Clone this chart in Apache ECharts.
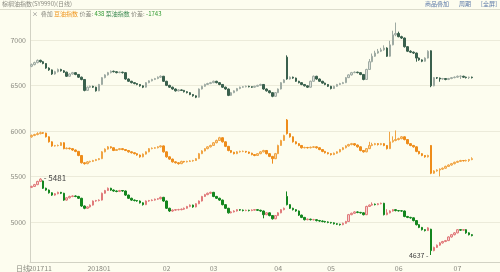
<!DOCTYPE html>
<html><head><meta charset="utf-8">
<script src="https://cdn.jsdelivr.net/npm/echarts@6/dist/echarts.min.js"></script>
<style>html,body{margin:0;padding:0;background:#fdfdef;}#c{width:500px;height:272px;}</style>
</head><body><div id="c"></div>
<script>
// [open, close, low, high]
const rapeseedOil = [
[6710,6728,6700,6740],[6728,6750,6720,6760],[6750,6775,6742,6785],[6775,6760,6750,6782],[6760,6740,6732,6768],
[6740,6690,6682,6745],[6690,6670,6660,6698],[6670,6625,6615,6675],[6625,6650,6618,6660],[6650,6675,6642,6685],
[6675,6660,6652,6682],[6660,6645,6636,6668],[6645,6600,6592,6650],[6600,6625,6595,6632],[6625,6640,6618,6648],
[6640,6620,6612,6646],[6620,6590,6582,6625],[6590,6565,6556,6596],[6565,6445,6435,6570],[6445,6480,6440,6488],
[6480,6490,6472,6498],[6490,6480,6472,6496],[6480,6440,6432,6485],[6440,6510,6436,6516],[6510,6585,6505,6592],
[6585,6615,6578,6622],[6615,6640,6608,6648],[6640,6655,6632,6664],[6655,6650,6642,6662],[6650,6640,6632,6656],
[6640,6645,6634,6652],[6645,6640,6630,6650],[6640,6570,6562,6645],[6570,6545,6538,6576],[6545,6530,6522,6550],
[6530,6520,6512,6536],[6520,6510,6502,6526],[6510,6495,6486,6515],[6495,6480,6470,6500],[6480,6530,6475,6536],
[6530,6550,6524,6556],[6550,6565,6544,6572],[6565,6575,6558,6582],[6575,6590,6568,6598],[6590,6600,6582,6610],
[6600,6545,6538,6604],[6545,6500,6492,6550],[6500,6480,6472,6506],[6480,6460,6452,6486],[6460,6440,6432,6466],
[6440,6450,6434,6458],[6450,6445,6438,6456],[6445,6430,6422,6450],[6430,6420,6412,6436],[6420,6400,6392,6426],
[6400,6385,6376,6405],[6385,6370,6360,6390],[6370,6460,6365,6466],[6460,6490,6455,6496],[6490,6510,6484,6518],
[6510,6520,6504,6528],[6520,6530,6514,6538],[6530,6545,6524,6552],[6545,6530,6522,6550],[6530,6510,6502,6536],
[6510,6480,6472,6515],[6480,6460,6452,6486],[6460,6390,6382,6465],[6390,6420,6385,6428],[6420,6440,6414,6446],
[6440,6465,6435,6472],[6465,6480,6458,6486],[6480,6485,6474,6492],[6485,6490,6478,6498],[6490,6485,6478,6496],
[6485,6480,6472,6490],[6480,6490,6474,6496],[6490,6500,6484,6506],[6500,6510,6494,6518],[6510,6460,6452,6515],
[6460,6440,6432,6466],[6440,6420,6412,6446],[6420,6380,6370,6425],[6380,6420,6375,6426],[6420,6460,6415,6466],
[6460,6530,6455,6536],[6530,6560,6525,6568],[6810,6570,6562,6830],[6570,6590,6564,6598],[6590,6580,6572,6596],
[6580,6545,6538,6585],[6545,6530,6522,6550],[6530,6510,6502,6535],[6510,6495,6488,6515],[6495,6480,6472,6500],
[6480,6545,6475,6552],[6545,6600,6540,6608],[6600,6570,6562,6605],[6570,6545,6538,6575],[6545,6525,6518,6550],
[6525,6510,6502,6530],[6510,6490,6482,6515],[6490,6465,6456,6495],[6465,6490,6460,6496],[6490,6510,6485,6516],
[6510,6520,6504,6528],[6520,6530,6514,6538],[6530,6585,6525,6592],[6585,6615,6580,6622],[6615,6640,6608,6648],
[6640,6645,6634,6654],[6645,6640,6632,6650],[6640,6620,6612,6645],[6620,6565,6556,6625],[6565,6675,6560,6682],
[6675,6760,6670,6790],[6760,6820,6754,6850],[6820,6855,6812,6880],[6855,6875,6848,6900],[6875,6890,6866,6912],
[6890,6910,6880,6940],[6910,6820,6812,6918],[6820,6945,6815,6990],[6945,7055,6940,7100],[7055,7070,7040,7190],
[7070,7035,7028,7090],[7035,7020,7010,7045],[7020,6925,6915,7025],[6925,6875,6866,6930],[6875,6865,6855,6885],
[6865,6855,6845,6872],[6855,6800,6760,6860],[6800,6780,6770,6806],[6780,6765,6755,6786],[6765,6800,6760,6808],
[6800,6875,6795,6885],[6880,6495,6480,6885],[6495,6585,6490,6592],[6585,6580,6570,6592],[6580,6570,6540,6586],
[6570,6575,6562,6582],[6575,6565,6556,6580],[6565,6575,6558,6582],[6575,6585,6568,6592],[6585,6590,6578,6598],
[6590,6600,6584,6608],[6600,6600,6570,6610],[6600,6590,6582,6606],[6590,6585,6576,6596],[6585,6590,6570,6596],
[6590,6585,6576,6596]
];
const soybeanOil = [
[5935,5950,5925,5960],[5950,5960,5942,5968],[5960,5970,5952,5985],[5970,5980,5962,5992],[5980,5975,5966,5986],
[5975,5935,5928,5980],[5935,5880,5872,5940],[5880,5835,5826,5886],[5835,5838,5828,5846],[5838,5840,5830,5850],
[5840,5870,5834,5878],[5870,5805,5798,5875],[5805,5810,5798,5818],[5810,5805,5796,5816],[5805,5790,5782,5810],
[5790,5775,5766,5795],[5775,5730,5722,5780],[5730,5650,5642,5735],[5650,5640,5630,5656],[5640,5660,5634,5668],
[5660,5665,5652,5672],[5665,5675,5658,5682],[5675,5685,5668,5692],[5685,5695,5678,5702],[5695,5770,5690,5778],
[5770,5800,5765,5808],[5800,5825,5794,5834],[5825,5815,5806,5830],[5815,5785,5778,5820],[5785,5795,5780,5802],
[5795,5805,5788,5812],[5805,5795,5788,5810],[5795,5785,5778,5800],[5785,5770,5762,5790],[5770,5760,5752,5775],
[5760,5750,5742,5765],[5750,5735,5728,5755],[5735,5715,5706,5740],[5715,5745,5710,5752],[5745,5770,5740,5776],
[5770,5805,5765,5812],[5805,5810,5798,5818],[5810,5815,5804,5822],[5815,5825,5808,5832],[5825,5835,5818,5842],
[5835,5770,5762,5840],[5770,5715,5706,5775],[5715,5690,5682,5720],[5690,5660,5652,5695],[5660,5650,5642,5666],
[5650,5640,5630,5655],[5640,5665,5635,5672],[5665,5660,5652,5670],[5660,5665,5654,5672],[5665,5670,5658,5678],
[5670,5675,5662,5682],[5675,5695,5670,5702],[5695,5750,5690,5758],[5750,5780,5745,5788],[5780,5805,5775,5812],
[5805,5825,5798,5832],[5825,5840,5818,5848],[5840,5870,5834,5878],[5870,5895,5864,5904],[5895,5925,5890,5935],
[5925,5880,5872,5930],[5880,5830,5822,5885],[5830,5785,5776,5835],[5785,5765,5756,5790],[5765,5750,5742,5770],
[5750,5770,5745,5778],[5770,5775,5762,5782],[5775,5775,5766,5784],[5775,5768,5760,5780],[5768,5755,5746,5772],
[5755,5740,5732,5760],[5740,5730,5722,5746],[5730,5750,5725,5756],[5750,5770,5744,5778],[5770,5785,5764,5792],
[5785,5750,5742,5790],[5750,5720,5712,5755],[5720,5695,5640,5725],[5695,5750,5690,5758],[5750,5840,5745,5848],
[5840,5895,5835,5902],[5895,5950,5890,5958],[6120,5970,5960,6130],[5970,5935,5926,5975],[5935,5880,5872,5940],
[5880,5860,5852,5886],[5860,5840,5832,5866],[5840,5815,5806,5845],[5815,5818,5808,5826],[5818,5815,5806,5824],
[5815,5820,5808,5828],[5820,5825,5812,5834],[5825,5815,5806,5830],[5815,5795,5788,5820],[5795,5775,5766,5800],
[5775,5760,5752,5780],[5760,5750,5742,5766],[5750,5740,5730,5755],[5740,5755,5734,5762],[5755,5770,5748,5776],
[5770,5795,5764,5802],[5795,5815,5788,5822],[5815,5835,5808,5842],[5835,5850,5828,5858],[5850,5860,5842,5868],
[5860,5845,5836,5866],[5845,5825,5816,5850],[5825,5785,5776,5830],[5785,5770,5762,5790],[5770,5805,5765,5812],
[5805,5840,5800,5880],[5840,5850,5832,5870],[5850,5860,5842,5868],[5860,5850,5840,5866],[5850,5860,5842,5868],
[5860,5840,5832,5866],[5840,5805,5796,5845],[5805,5880,5800,5990],[5880,5895,5872,5940],[5895,5905,5886,6005],
[5905,5915,5896,5925],[5915,5935,5908,5944],[5935,5905,5896,5940],[5905,5860,5852,5910],[5860,5840,5832,5866],
[5840,5825,5816,5846],[5825,5775,5766,5830],[5775,5750,5742,5780],[5750,5730,5722,5756],[5730,5715,5706,5735],
[5715,5730,5708,5738],[5840,5535,5525,5845],[5535,5560,5528,5568],[5560,5570,5552,5578],[5570,5580,5500,5588],
[5580,5590,5572,5598],[5590,5610,5584,5618],[5610,5625,5604,5632],[5625,5640,5618,5648],[5640,5655,5632,5662],
[5655,5665,5648,5672],[5665,5675,5658,5682],[5675,5672,5664,5680],[5672,5675,5664,5684],[5675,5685,5660,5692],
[5685,5695,5678,5710]
];
const palmOil = [
[5380,5390,5372,5398],[5390,5410,5384,5418],[5410,5445,5404,5452],[5445,5470,5438,5481],[5450,5370,5362,5455],
[5370,5350,5342,5376],[5350,5320,5312,5356],[5320,5295,5286,5326],[5295,5310,5288,5318],[5310,5325,5304,5332],
[5325,5315,5306,5330],[5315,5240,5232,5320],[5240,5265,5234,5272],[5265,5280,5258,5288],[5280,5285,5272,5292],
[5285,5280,5272,5292],[5280,5260,5252,5286],[5260,5175,5166,5265],[5175,5150,5140,5180],[5150,5165,5144,5172],
[5165,5185,5158,5192],[5185,5230,5180,5236],[5230,5235,5222,5242],[5235,5240,5226,5248],[5240,5315,5235,5322],
[5315,5345,5310,5352],[5345,5370,5340,5378],[5370,5350,5342,5375],[5350,5340,5332,5356],[5340,5335,5326,5346],
[5335,5345,5328,5352],[5345,5340,5332,5350],[5340,5295,5286,5345],[5295,5260,5252,5300],[5260,5240,5232,5266],
[5240,5235,5226,5246],[5235,5230,5222,5240],[5230,5210,5202,5236],[5210,5190,5180,5215],[5190,5230,5185,5236],
[5230,5235,5222,5242],[5235,5240,5228,5248],[5240,5250,5234,5256],[5250,5255,5242,5262],[5255,5270,5248,5278],
[5270,5230,5222,5275],[5230,5150,5142,5235],[5150,5120,5110,5156],[5120,5130,5112,5138],[5130,5135,5122,5142],
[5135,5135,5126,5144],[5135,5140,5128,5148],[5140,5150,5132,5158],[5150,5170,5144,5176],[5170,5185,5162,5192],
[5185,5165,5156,5190],[5165,5200,5160,5206],[5200,5230,5195,5236],[5230,5280,5225,5286],[5280,5300,5274,5308],
[5300,5315,5294,5322],[5315,5325,5308,5332],[5325,5280,5272,5330],[5280,5260,5252,5286],[5260,5240,5232,5266],
[5240,5190,5182,5245],[5190,5150,5142,5195],[5150,5100,5092,5155],[5100,5110,5094,5118],[5110,5120,5104,5128],
[5120,5135,5114,5142],[5135,5130,5122,5140],[5130,5125,5116,5136],[5125,5128,5118,5135],[5128,5125,5116,5134],
[5125,5130,5118,5138],[5130,5135,5124,5142],[5135,5128,5120,5140],[5128,5120,5112,5134],[5120,5080,5040,5125],
[5080,5100,5074,5108],[5100,5070,5062,5105],[5070,5035,5026,5075],[5035,5070,5030,5076],[5070,5100,5065,5108],
[5100,5135,5095,5142],[5135,5150,5128,5158],[5280,5190,5182,5335],[5190,5150,5142,5195],[5150,5135,5126,5156],
[5135,5120,5112,5140],[5120,5075,5066,5125],[5075,5050,5042,5080],[5050,5025,5016,5055],[5025,5030,5018,5038],
[5030,5025,5016,5036],[5025,5025,5016,5034],[5025,5015,5006,5030],[5015,5010,5002,5022],[5010,5005,4996,5016],
[5005,5000,4992,5012],[5000,4995,4986,5006],[4995,4990,4982,5000],[4990,4980,4972,4996],[4980,4975,4966,4986],
[4975,4970,4960,4980],[4970,4985,4964,4992],[4985,5005,4980,5012],[5005,5080,5000,5088],[5080,5095,5074,5102],
[5095,5110,5088,5118],[5110,5105,5096,5116],[5105,5100,5092,5110],[5100,5080,5072,5106],[5080,5170,5075,5178],
[5170,5185,5164,5192],[5185,5195,5178,5215],[5195,5190,5182,5202],[5190,5200,5184,5208],[5200,5205,5194,5212],
[5205,5080,5072,5210],[5080,5100,5074,5140],[5100,5120,5094,5128],[5120,5135,5114,5142],[5135,5125,5116,5140],
[5125,5122,5114,5130],[5122,5120,5112,5128],[5120,5060,5052,5125],[5060,5050,5042,5066],[5050,5045,5036,5056],
[5045,5015,5006,5050],[5015,4970,4962,5020],[4970,4940,4932,4975],[4940,4915,4906,4945],[4915,4905,4896,4920],
[4905,4935,4900,4942],[4920,4685,4637,4925],[4685,4720,4678,4728],[4720,4745,4714,4752],[4745,4770,4738,4778],
[4770,4785,4762,4792],[4785,4795,4778,4802],[4795,4835,4790,4842],[4835,4860,4828,4868],[4860,4880,4852,4888],
[4880,4915,4874,4922],[4915,4910,4902,4920],[4910,4915,4902,4922],[4915,4880,4870,4920],[4880,4860,4852,4886],
[4860,4850,4842,4866]
];
const monthTickIndex = [3, 23, 46, 62, 84, 102, 125, 145];
const monthTickLabels = ['201711', '201801', '02', '03', '04', '05', '06', '07'];
const slotCount = 160;
const titleText = '棕榈油指数(SY9990)(日线)';
const periodLabel = '日线';
const overlayNames = ['豆油指数', '菜油指数'];
const overlaySpreads = ['438', '-1743'];
const toolbarItems = ['商品叠加', '周期', '[全屏]'];

const slots = Array.from({length: slotCount}, (_, i) => String(i));
const FONT = '"Noto Sans CJK SC", "Noto Sans", sans-serif';
const chart = echarts.init(document.getElementById('c'), null, {renderer: 'canvas'});

chart.setOption({
  animation: false,
  backgroundColor: '#fdfdef',
  textStyle: {fontFamily: FONT},
  grid: {left: 30, right: 0, top: 18, bottom: 9, containLabel: false},
  xAxis: {
    type: 'category', data: slots, boundaryGap: true,
    axisLine: {lineStyle: {color: '#d2d2c4', width: 1}},
    axisTick: {show: false},
    splitLine: {show: false},
    axisLabel: {
      color: '#8a8a80', fontSize: 7, margin: 3, fontFamily: FONT,
      interval: (i) => monthTickIndex.indexOf(i) >= 0,
      formatter: (v, i) => { const k = monthTickIndex.indexOf(Number(v)); return k >= 0 ? monthTickLabels[k] : ''; }
    }
  },
  yAxis: {
    type: 'value', min: 4560, max: 7240, splitNumber: 5, scale: true,
    axisLine: {show: true, lineStyle: {color: '#d2d2c4'}},
    axisTick: {show: false},
    axisLabel: {color: '#8a8a80', fontSize: 7, margin: 4, showMinLabel: false, showMaxLabel: false, fontFamily: FONT,
      formatter: (v) => String(v)},
    splitLine: {show: true, showMinLine: false, showMaxLine: false, lineStyle: {color: '#ecebda', width: 1}}
  },
  series: [
    {
      name: overlayNames[1], type: 'candlestick', data: rapeseedOil, barWidth: 2,
      itemStyle: {color: '#dfe3dc', color0: '#3a604d', borderColor: '#9eaaa2', borderColor0: '#3a604d', borderWidth: 1}
    },
    {
      name: overlayNames[0], type: 'candlestick', data: soybeanOil, barWidth: 2,
      itemStyle: {color: '#f8d29c', color0: '#ee8c1a', borderColor: '#f0a444', borderColor0: '#ee8c1a', borderWidth: 1}
    },
    {
      name: '棕榈油指数', type: 'candlestick', data: palmOil, barWidth: 2,
      itemStyle: {color: '#f6d2d2', color0: '#13861e', borderColor: '#e07a7a', borderColor0: '#13861e', borderWidth: 1},
      markPoint: {
        symbol: 'circle', symbolSize: 1, itemStyle: {color: 'rgba(0,0,0,0)'},
        data: [
          {type: 'max', valueDim: 'highest', label: {show: true, position: 'right', distance: 3, formatter: '- {c}', color: '#444', fontSize: 8}},
          {type: 'min', valueDim: 'lowest', label: {show: true, position: 'left', distance: 2, formatter: '{c} -', color: '#444', fontSize: 7}}
        ]
      }
    }
  ],
  graphic: [
    {type: 'line', shape: {x1: 0, y1: 9.5, x2: 500, y2: 9.5}, style: {stroke: '#dcdccc', lineWidth: 1}},
    {type: 'line', shape: {x1: 30.5, y1: 9.5, x2: 30.5, y2: 263}, style: {stroke: '#d2d2c4', lineWidth: 1}},
    {type: 'text', x: 2, y: 1, style: {text: titleText, fill: '#8a8a80', font: '6px ' + FONT}},
    {type: 'text', x: 425, y: 1, style: {text: toolbarItems[0], fill: '#5a78a8', font: '6px ' + FONT}},
    {type: 'text', x: 459, y: 1, style: {text: toolbarItems[1], fill: '#5a78a8', font: '6px ' + FONT}},
    {type: 'text', x: 481, y: 1, style: {text: toolbarItems[2], fill: '#5a78a8', font: '6px ' + FONT}},
    {type: 'text', x: 32, y: 10.5, style: {
      text: '{x|×}  {a|叠加} {o|' + overlayNames[0] + '} {a|价差:} {g|' + overlaySpreads[0] + '} {r|' + overlayNames[1] + '} {a|价差:} {g|' + overlaySpreads[1] + '}',
      font: '6px ' + FONT,
      rich: {
        x: {fill: '#777', fontSize: 6, fontFamily: FONT},
        a: {fill: '#8a8a80', fontSize: 6, fontFamily: FONT},
        o: {fill: '#f0961e', fontSize: 6, fontFamily: FONT},
        r: {fill: '#3c8a52', fontSize: 6, fontFamily: FONT},
        g: {fill: '#2f9a2f', fontSize: 6, fontFamily: FONT}
      }
    }},
    {type: 'text', x: 16, y: 264.5, style: {text: periodLabel, fill: '#8a8a80', font: '7px ' + FONT}}
  ]
});
</script></body></html>
